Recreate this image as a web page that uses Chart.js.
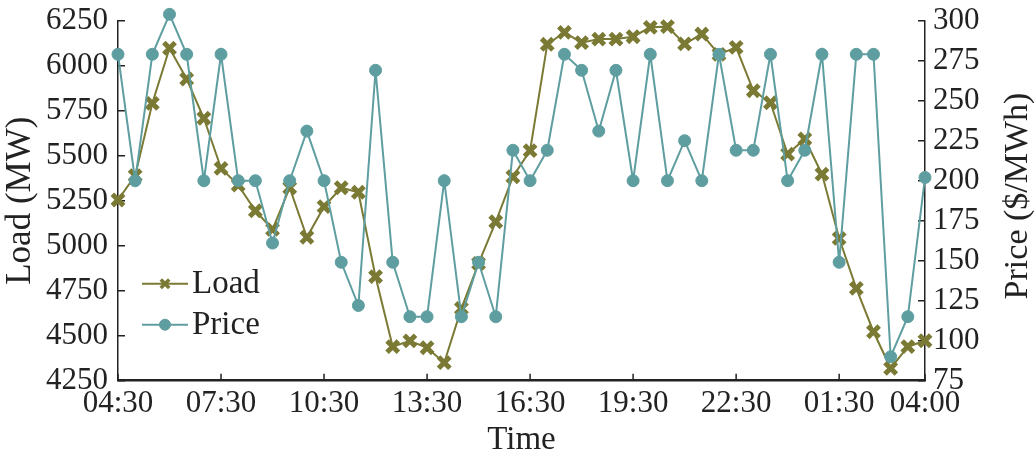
<!DOCTYPE html>
<html>
<head>
<meta charset="utf-8">
<style>
  html, body { margin: 0; padding: 0; background: #fff; }
</style>
</head>
<body>
<canvas id="myChart" width="1036" height="460"></canvas>
<script src="https://cdn.jsdelivr.net/npm/chart.js"></script>
<script>

// half-hourly points, 04:30 through 04:00 next day
const times = [
  '04:30','05:00','05:30','06:00','06:30','07:00','07:30','08:00','08:30','09:00','09:30','10:00',
  '10:30','11:00','11:30','12:00','12:30','13:00','13:30','14:00','14:30','15:00','15:30','16:00',
  '16:30','17:00','17:30','18:00','18:30','19:00','19:30','20:00','20:30','21:00','21:30','22:00',
  '22:30','23:00','23:30','00:00','00:30','01:00','01:30','02:00','02:30','03:00','03:30','04:00'
];
const tickTimes = ['04:30','07:30','10:30','13:30','16:30','19:30','22:30','01:30','04:00'];

const load = [
  5254, 5389, 5791, 6097, 5926, 5708, 5430, 5337, 5194, 5091, 5322, 5047,
  5217, 5322, 5297, 4828, 4439, 4471, 4433, 4350, 4652, 4902, 5133, 5383,
  5528, 6119, 6185, 6128, 6148, 6148, 6161, 6213, 6217, 6121, 6176, 6063,
  6102, 5861, 5794, 5509, 5593, 5398, 5041, 4763, 4522, 4319, 4439, 4472
];
const price = [
  279, 200, 279, 304, 279, 200, 279, 200, 200, 161, 200, 231,
  200, 149, 122, 269, 149, 115, 115, 200, 115, 149, 115, 219,
  200, 219, 279, 269, 231, 269, 200, 279, 200, 225, 200, 279,
  219, 219, 279, 200, 219, 279, 149, 279, 279, 90, 115, 202
];

const OLIVE = '#7b7a35';
const TEAL = '#5f9ea0';
const INK = '#222';
const FONT = 'Liberation Serif, Times New Roman, serif';

// inward tick marks, legend and right-hand title
const chrome = {
  id: 'chrome',
  beforeDatasetsDraw(chart) {
    const ctx = chart.ctx;
    const {x, y, y1} = chart.scales;
    ctx.save();
    ctx.strokeStyle = INK;
    ctx.lineWidth = 1.5;
    ctx.beginPath();
    y.ticks.forEach(t => {
      const py = y.getPixelForValue(t.value);
      ctx.moveTo(x.left, py); ctx.lineTo(x.left + 7, py);
    });
    y1.ticks.forEach(t => {
      const py = y1.getPixelForValue(t.value);
      ctx.moveTo(x.right, py); ctx.lineTo(x.right - 7, py);
    });
    times.forEach((t, i) => {
      if (!tickTimes.includes(t)) return;
      const px = x.getPixelForValue(i);
      ctx.moveTo(px, y.bottom); ctx.lineTo(px, y.bottom - 7);
    });
    ctx.stroke();
    ctx.restore();
  },
  afterDraw(chart) {
    const ctx = chart.ctx;
    const area = chart.chartArea;
    ctx.save();
    ctx.font = '33px ' + FONT;
    ctx.textBaseline = 'middle';
    const items = [
      {label: 'Load', color: OLIVE, style: 'crossRot', r: 6, bw: 3.5, y: area.bottom - 97},
      {label: 'Price', color: TEAL, style: 'circle', r: 5.5, bw: 1, y: area.bottom - 56}
    ];
    items.forEach(it => {
      const x0 = area.left + 24;
      ctx.strokeStyle = it.color;
      ctx.fillStyle = it.color;
      ctx.lineWidth = 2;
      ctx.beginPath();
      ctx.moveTo(x0, it.y); ctx.lineTo(x0 + 46, it.y);
      ctx.stroke();
      ctx.lineWidth = it.bw;
      Chart.helpers.drawPoint(ctx, {pointStyle: it.style, radius: it.r, borderWidth: it.bw, rotation: 0}, x0 + 23, it.y);
      ctx.fillStyle = INK;
      ctx.textAlign = 'left';
      ctx.fillText(it.label, x0 + 50, it.y + 1);
    });
    ctx.font = '34px ' + FONT;
    ctx.translate(1018, 196);
    ctx.rotate(-Math.PI / 2);
    ctx.textAlign = 'center';
    ctx.fillStyle = INK;
    ctx.fillText('Price ($/MWh)', 0, 0);
    ctx.restore();
  }
};

// keep the plot box fixed: no extra room for the end tick labels
function fixY(width) {
  return function(scale) {
    scale.width = width;
    scale.paddingTop = 0;
    scale.paddingBottom = 0;
  };
}

const config = {
  type: 'line',
  data: {
    labels: times,
    datasets: [
      {
        label: 'Load',
        data: load,
        yAxisID: 'y',
        borderColor: OLIVE,
        backgroundColor: OLIVE,
        borderWidth: 2,
        pointStyle: 'crossRot',
        pointRadius: 8,
        pointBorderWidth: 5,
        tension: 0,
        clip: false,
        order: 2
      },
      {
        label: 'Price',
        data: price,
        yAxisID: 'y1',
        borderColor: TEAL,
        backgroundColor: TEAL,
        borderWidth: 2,
        pointStyle: 'circle',
        pointRadius: 6,
        pointBorderWidth: 1,
        tension: 0,
        clip: false,
        order: 1
      }
    ]
  },
  options: {
    responsive: false,
    animation: false,
    devicePixelRatio: 1,
    layout: { padding: { top: 20.7, left: 0, right: 0, bottom: 0 } },
    plugins: {
      legend: { display: false },
      tooltip: { enabled: false }
    },
    scales: {
      x: {
        type: 'category',
        offset: false,
        grid: { display: false, drawTicks: false },
        border: { display: true, color: INK, width: 2.5 },
        ticks: {
          autoSkip: false,
          maxRotation: 0,
          padding: 5,
          color: INK,
          font: { family: FONT, size: 31 },
          callback: function(v, i) { return tickTimes.includes(times[i]) ? times[i] : null; }
        },
        title: {
          display: true, text: 'Time', color: INK,
          font: { family: FONT, size: 33 },
          padding: { top: 0, bottom: 0 }
        },
        afterFit(scale) { scale.height = 79.3; }
      },
      y: {
        position: 'left',
        min: 4250, max: 6250,
        grid: { display: false, drawTicks: false },
        border: { display: true, color: INK, width: 1.5 },
        ticks: {
          stepSize: 250, padding: 10, color: INK, autoSkip: false,
          font: { family: FONT, size: 31 },
          callback: v => String(v)
        },
        title: {
          display: true, text: 'Load (MW)', color: INK,
          font: { family: FONT, size: 35 },
          padding: { top: 0, bottom: 0 }
        },
        afterFit: fixY(118)
      },
      y1: {
        position: 'right',
        min: 75, max: 300,
        grid: { display: false, drawTicks: false },
        border: { display: true, color: INK, width: 1.5 },
        ticks: {
          stepSize: 25, padding: 8, color: INK, autoSkip: false,
          font: { family: FONT, size: 31 },
          callback: v => String(v)
        },
        afterFit: fixY(111)
      }
    }
  },
  plugins: [chrome]
};

new Chart('myChart', config);

</script>
</body>
</html>
